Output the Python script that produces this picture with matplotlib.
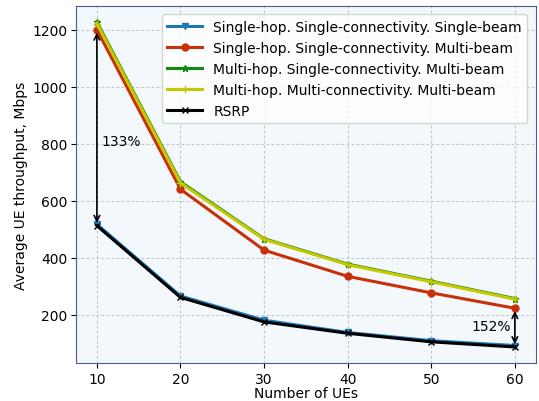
import matplotlib
matplotlib.use("Agg")
import matplotlib.pyplot as plt

# -------------------------------
num_ues = [10, 20, 30, 40, 50, 60]
single_beam = [517, 265, 180, 137, 108, 91]
multi_beam = [1200, 640, 426, 334, 276, 222]
multihop_sc = [1227, 666, 466, 377, 317, 256]
multihop_mc = [1222, 662, 464, 375, 315, 254]
rsrp = [512, 260, 174, 134, 104, 86]
# -------------------------------

fig = plt.figure(figsize=(5.39, 4.02), dpi=100)
ax = fig.add_axes([0.141, 0.094, 0.853, 0.889])
ax.set_facecolor('#f3f8fc')
for s in ax.spines.values():
    s.set_color('#4a5b95')

ax.plot(num_ues, single_beam, marker='v', color='#1f77b4', lw=2.2, ms=5,
        label='Single-hop. Single-connectivity. Single-beam')
ax.plot(num_ues, multi_beam, marker='o', color='#c8300a', lw=2.2, ms=5,
        label='Single-hop. Single-connectivity. Multi-beam')
ax.plot(num_ues, multihop_sc, marker='*', color='#118a11', lw=2.2, ms=5,
        label='Multi-hop. Single-connectivity. Multi-beam')
ax.plot(num_ues, multihop_mc, marker='+', color='#c8c800', lw=2.2, ms=6,
        label='Multi-hop. Multi-connectivity. Multi-beam')
ax.plot(num_ues, rsrp, marker='x', color='black', lw=2.2, ms=5, label='RSRP')

# gain annotations
ax.annotate('', xy=(num_ues[0], multi_beam[0]), xytext=(num_ues[0], rsrp[0]),
            arrowprops=dict(arrowstyle='<->', color='black', lw=1.2))
ax.text(10.5, 810, '133%', fontsize=10, va='center', ha='left')
ax.annotate('', xy=(num_ues[-1], multi_beam[-1]), xytext=(num_ues[-1], rsrp[-1]),
            arrowprops=dict(arrowstyle='<->', color='black', lw=1.2))
ax.text(59.5, 160, '152%', fontsize=10, va='center', ha='right')

ax.set_xlabel('Number of UEs', fontsize=10, labelpad=0)
ax.set_ylabel('Average UE throughput, Mbps', fontsize=10, labelpad=3)
ax.tick_params(labelsize=10, pad=2.5)
ax.set_yticks([200, 400, 600, 800, 1000, 1200])
ax.grid(True, linestyle=(0, (2.5, 2)), color='#c4c4c4', lw=0.8)
ax.legend(loc='upper right', fontsize=10, framealpha=0.8, handlelength=2.5,
          borderaxespad=0.6)

fig.savefig('out.png', dpi=100)
